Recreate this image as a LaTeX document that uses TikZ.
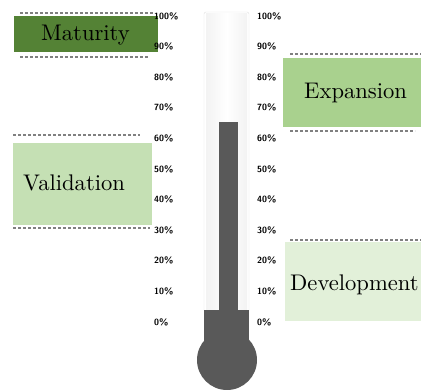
\documentclass[tikz,border=0pt]{standalone}
\usepackage{fontspec}
\usepackage{tikz}
\usetikzlibrary{arrows.meta}
\newfontfamily\stagefont{lmroman10-regular}[Extension=.otf]
\definecolor{maturegreen}{HTML}{548235}
\definecolor{expandgreen}{HTML}{A9D18E}
\definecolor{validgreen}{HTML}{C5E0B4}
\definecolor{developgreen}{HTML}{E2F0D9}
\definecolor{mercury}{HTML}{595959}

\begin{document}
\begin{tikzpicture}[x=1pt, y=-1pt, >=Stealth,
  stage/.style={font=\stagefont\fontsize{22.6}{26}\selectfont, inner sep=0pt, anchor=base west},
  cut/.style={draw=gray, line width=1.2pt, dash pattern=on 3pt off 2pt},
  pct/.style={font=\fontsize{9}{10}\sffamily\bfseries, inner sep=0pt, anchor=west}]
\useasboundingbox (0,0) rectangle (421,390);

% Stage boxes
\fill[maturegreen] (14,16) rectangle (158,52);
\fill[expandgreen] (283,58) rectangle (421,127);
\fill[validgreen] (13,143) rectangle (152,225);
\fill[developgreen] (285,242) rectangle (421,321);

% Stage names
\node[stage] (maturity) at (41,41) {Maturity};
\node[stage] (expansion) at (304,99) {Expansion};
\node[stage] (validation) at (23,191) {Validation};
\node[stage] (development) at (290,291) {Development};

% Dashed limits
\draw[cut] (20,13) -- (155,13);
\draw[cut] (20,57) -- (148,57);
\draw[cut] (290,54) -- (421,54);
\draw[cut] (290,131) -- (415,131);
\draw[cut] (13,135) -- (140,135);
\draw[cut] (13,228) -- (150,228);
\draw[cut] (290,240) -- (421,240);

% Glass tube
\shade[top color=white, middle color=black!12, bottom color=white, rounded corners=2pt]
  (204,12) rectangle (249,312);
\shade[left color=black!8, right color=black!8, middle color=white, opacity=0.6]
  (206,14) rectangle (247,310);
\draw[black!12, rounded corners=2pt] (204,12) rectangle (249,312);

% Mercury column and bulb
\fill[mercury] (219,122) rectangle (238,312);
\fill[mercury] (204,310) rectangle (249,345);
\fill[mercury] (227,360) circle (30);

% Scales
\foreach \v in {0,10,...,100} {
  \node[pct] (left\v) at (154,322-3.06*\v) {\v\%};
  \node[pct] (right\v) at (257,322-3.06*\v) {\v\%};
}
\end{tikzpicture}
\end{document}
